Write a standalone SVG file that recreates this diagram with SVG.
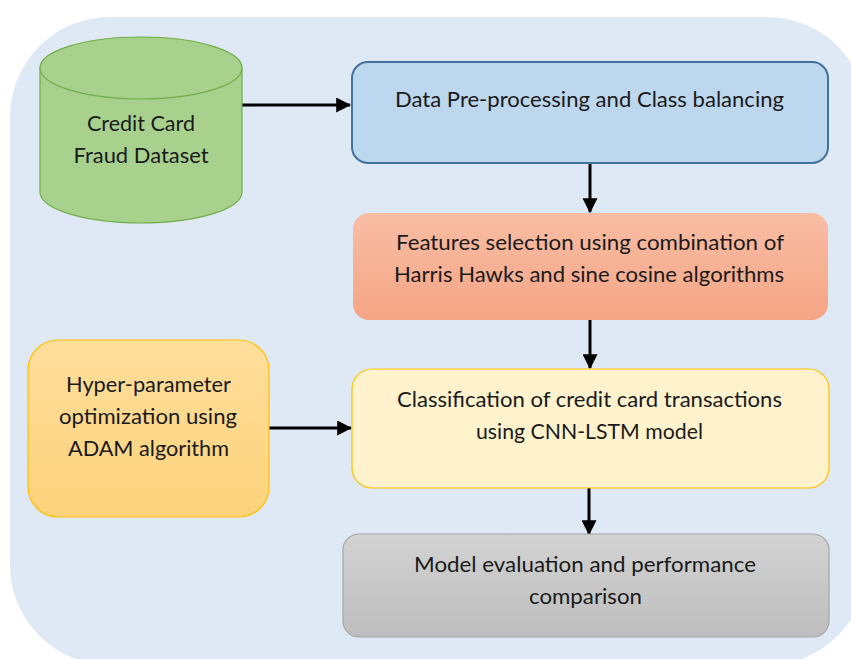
<svg xmlns="http://www.w3.org/2000/svg" width="851" height="659" viewBox="0 0 851 659">
<style>
text{font-family:Lato,"Open Sans","Liberation Sans",sans-serif;font-size:21px;fill:#1a1a1a;text-anchor:middle}
.conn{stroke:#000;stroke-width:3;fill:none}
</style>
<defs>
<marker id="ah" markerWidth="5" markerHeight="5" refX="4.6" refY="2.5" orient="auto" markerUnits="strokeWidth">
<path d="M0,0 L5,2.5 L0,5 Z" fill="#000"/>
</marker>
<linearGradient id="gOrange" x1="0" y1="0" x2="0" y2="1"><stop offset="0" stop-color="#F8BDA4"/><stop offset="1" stop-color="#F5A585"/></linearGradient>
<linearGradient id="gGold" x1="0" y1="0" x2="0" y2="1"><stop offset="0" stop-color="#FEDE9C"/><stop offset="1" stop-color="#FDD27B"/></linearGradient>
<linearGradient id="gGray" x1="0" y1="0" x2="0" y2="1"><stop offset="0" stop-color="#D2D2D2"/><stop offset="1" stop-color="#BEBEBE"/></linearGradient>
</defs>
<rect x="0" y="0" width="851" height="659" fill="#fff"/>
<rect id="background" x="10" y="17" width="857" height="648" rx="100" fill="#DEE9F5"/>

<g id="connectors">
<line class="conn" x1="242" y1="105" x2="350" y2="105" marker-end="url(#ah)"/>
<line class="conn" x1="590" y1="163" x2="590" y2="212" marker-end="url(#ah)"/>
<line class="conn" x1="590" y1="320" x2="590" y2="368" marker-end="url(#ah)"/>
<line class="conn" x1="589" y1="488" x2="589" y2="534" marker-end="url(#ah)"/>
<line class="conn" x1="269" y1="428" x2="351" y2="428" marker-end="url(#ah)"/>
</g>

<g id="dataset">
<path d="M40,68 L40,192 A101,31 0 0 0 242,192 L242,68" fill="#A9D18E" stroke="#70AD47" stroke-width="1.2"/>
<ellipse cx="141" cy="68" rx="101" ry="31" fill="#A9D18E" stroke="#70AD47" stroke-width="1.2"/>
<text x="141" y="131" textLength="108" lengthAdjust="spacingAndGlyphs">Credit Card</text>
<text x="141" y="163" textLength="135" lengthAdjust="spacingAndGlyphs">Fraud Dataset</text>
</g>

<g id="preprocessing">
<rect x="352" y="62" width="476" height="101" rx="16" fill="#BDD7EE" stroke="#41719C" stroke-width="2"/>
<text x="589.5" y="107" textLength="389" lengthAdjust="spacingAndGlyphs">Data Pre-processing  and Class balancing</text>
</g>

<g id="features">
<rect x="353" y="213" width="475" height="107" rx="16" fill="url(#gOrange)"/>
<text x="590" y="250" textLength="388" lengthAdjust="spacingAndGlyphs">Features selection using combination of</text>
<text x="589" y="282" textLength="390" lengthAdjust="spacingAndGlyphs">Harris Hawks and sine cosine algorithms</text>
</g>

<g id="classification">
<rect x="352" y="369" width="477" height="119" rx="20" fill="#FFF2CC" stroke="#FFC000" stroke-width="1.2"/>
<text x="589.5" y="407" textLength="385" lengthAdjust="spacingAndGlyphs">Classification of credit card transactions</text>
<text x="589.5" y="439" textLength="227" lengthAdjust="spacingAndGlyphs">using CNN-LSTM model</text>
</g>

<g id="evaluation">
<rect x="343" y="534" width="486" height="103" rx="16" fill="url(#gGray)" stroke="#A5A5A5" stroke-width="1.2"/>
<text x="585" y="572" textLength="342" lengthAdjust="spacingAndGlyphs">Model evaluation and performance</text>
<text x="585.5" y="604" textLength="113" lengthAdjust="spacingAndGlyphs">comparison</text>
</g>

<g id="hyperparameter">
<rect x="28" y="340" width="241" height="177" rx="30" fill="url(#gGold)" stroke="#FFC000" stroke-width="1.2"/>
<text x="148.5" y="392" textLength="165" lengthAdjust="spacingAndGlyphs">Hyper-parameter</text>
<text x="148" y="424" textLength="178" lengthAdjust="spacingAndGlyphs">optimization using</text>
<text x="148.5" y="456" textLength="161" lengthAdjust="spacingAndGlyphs">ADAM algorithm</text>
</g>
</svg>
